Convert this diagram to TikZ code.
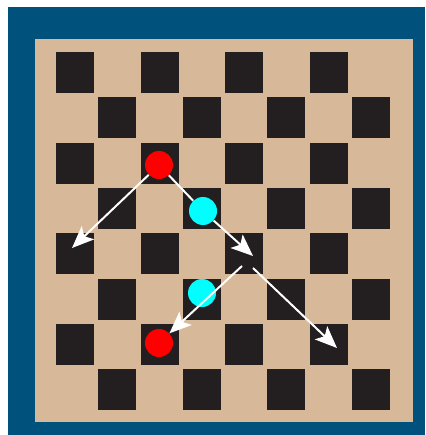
\documentclass[tikz,border=0pt]{standalone}
\usetikzlibrary{arrows.meta}
\definecolor{frameblue}{RGB}{0,82,124}
\definecolor{boardtan}{RGB}{215,184,153}
\definecolor{sqdark}{RGB}{35,31,32}
\definecolor{piecered}{RGB}{255,0,0}
\definecolor{piececyan}{RGB}{0,255,255}
\tikzset{
  darksq/.style={fill=sqdark, draw=none},
  redpiece/.style={circle, fill=piecered, draw=none, minimum size=28pt, inner sep=0pt},
  cyanpiece/.style={circle, fill=piececyan, draw=none, minimum size=28pt, inner sep=0pt},
  wline/.style={draw=white, line width=2pt},
  warrow/.style={wline, -{Stealth[length=22pt, width=18pt, inset=5pt]}}
}
\begin{document}
\begin{tikzpicture}[x=1pt, y=-1pt]
\useasboundingbox (0,0) rectangle (425,435);
\fill[white] (0,0) rectangle (425,435);
\fill[frameblue] (8,7) rectangle (425,435);
\fill[boardtan] (35,39) rectangle (413,422);
\foreach \r in {0,...,7}{
  \foreach \c in {0,...,7}{
    \pgfmathtruncatemacro{\myparity}{mod(\r+\c,2)}
    \ifnum\myparity=0
      \fill[darksq] ({54+\c*42.25+2},{50+\r*45.3+2}) rectangle ++(38,41);
    \fi
  }
}
\node[redpiece] (r1) at (159,165) {};
\node[cyanpiece] (c1) at (203,211) {};
\node[cyanpiece] (c2) at (202,293) {};
\node[redpiece] (r2) at (159,343) {};
\coordinate (a1) at (72,248);
\coordinate (a2) at (253,256);
\coordinate (s3) at (242,266);
\coordinate (s4) at (253,268);
\coordinate (a4) at (337,348);
\draw[warrow] (r1) -- (a1);
\draw[wline] (r1) -- (c1);
\draw[warrow] (c1) -- (a2);
\draw[warrow] (s3) -- (r2);
\draw[warrow] (s4) -- (a4);
\end{tikzpicture}
\end{document}
